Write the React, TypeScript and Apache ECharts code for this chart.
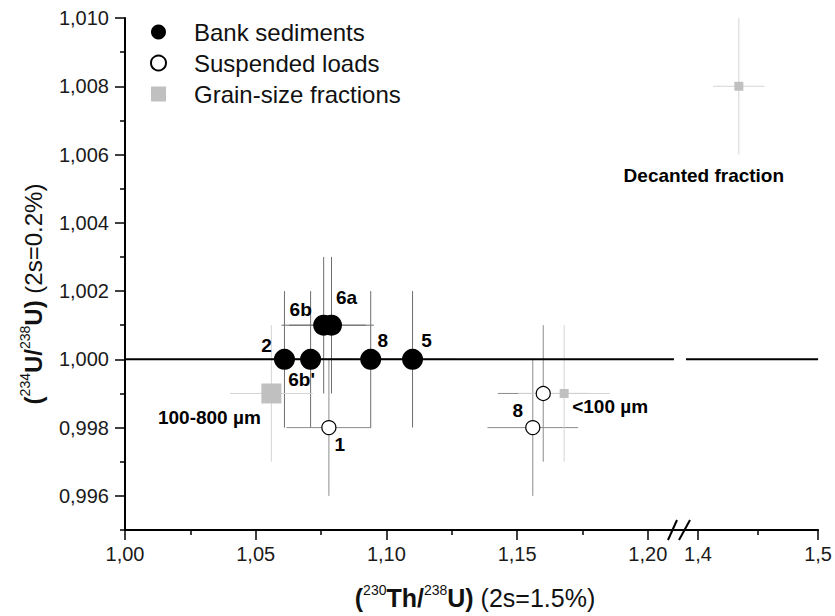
import React, { useEffect, useRef } from 'react';
import * as echarts from 'echarts';

// ---------- data ----------
const bankNames = ['2', "6b'", '6b', '6a', '8', '5'];
const bankTh = [1.061, 1.071, 1.076, 1.079, 1.094, 1.110];
const bankU = [1.000, 1.000, 1.001, 1.001, 1.000, 1.000];

const suspNames = ['1', '8', ''];
const suspTh = [1.078, 1.156, 1.160];
const suspU = [0.998, 0.998, 0.999];

const grainNamesLeft = ['100-800 µm', '<100 µm'];
const grainThLeft = [1.056, 1.168];
const grainULeft = [0.999, 0.999];
const grainNamesRight = ['Decanted fraction'];
const grainThRight = [1.434];
const grainURight = [1.008];

const thErrRel = 0.015; // 2s = 1.5 %
const uErr = 0.002; // 2s = 0.2 %
const refValue = 1.0;

const xLeftRange = [1.0, 1.21];
const xRightRange = [1.39, 1.5];
const yRange = [0.995, 1.01];
const xTicksLeft = [1.0, 1.05, 1.1, 1.15, 1.2];
const xMinorLeft = [1.025, 1.075, 1.125, 1.175];
const xTicksRight = [1.4, 1.5];
const xMinorRight = [1.45];
const yTicks = [0.996, 0.998, 1.0, 1.002, 1.004, 1.006, 1.008, 1.01];
const yMinor = [0.995, 0.997, 0.999, 1.001, 1.003, 1.005, 1.007, 1.009];

// ---------- styling ----------
const FONT = 'Liberation Sans, Arial, sans-serif';
const bankLabelOffsets = [[-18, -14], [-9, 20], [-23, -16], [15, -28], [12, -19], [14, -19]];
const suspLabelOffsets = [[11, 17], [-15, -17], [0, 0]];
const grainLeftLabelOffsets = [[-62, 24], [46, 13]];
const grainRightLabelOffsets = [[-35, 89]];
const grainLeftSizes = [20, 9];

const labelBase = {
  show: true,
  position: 'inside',
  formatter: '{b}',
  fontSize: 19,
  fontWeight: 'bold',
  color: '#000',
  opacity: 1,
  fontFamily: FONT,
};

function errorBars(xs: number[], ys: number[], color: string, xi: number, yi: number, z: number) {
  return {
    type: 'custom',
    name: 'err',
    xAxisIndex: xi,
    yAxisIndex: yi,
    silent: true,
    z,
    encode: { x: 0, y: 1 },
    data: xs.map((x, i) => [x, ys[i], x * thErrRel, uErr]),
    renderItem: (_p: any, api: any) => {
      const x = api.value(0), y = api.value(1), ex = api.value(2), ey = api.value(3);
      const l = api.coord([x - ex, y]);
      const r = api.coord([x + ex, y]);
      const t = api.coord([x, y + ey]);
      const b = api.coord([x, y - ey]);
      return {
        type: 'group',
        children: [
          { type: 'line', shape: { x1: l[0], y1: l[1], x2: r[0], y2: r[1] }, style: { stroke: color, lineWidth: 1 } },
          { type: 'line', shape: { x1: t[0], y1: t[1], x2: b[0], y2: b[1] }, style: { stroke: color, lineWidth: 1 } },
        ],
      };
    },
  };
}

const fmt = (d: number) => (v: number) => v.toFixed(d).replace('.', ',');

const mainX = (grid: number, range: number[], ticks: number[], digits: number) => ({
  type: 'value',
  gridIndex: grid,
  position: 'bottom',
  min: range[0],
  max: range[1],
  splitLine: { show: false },
  axisLine: { show: true, onZero: false, lineStyle: { color: '#000', width: 2 } },
  axisTick: { show: true, inside: false, length: 10, customValues: ticks, lineStyle: { color: '#000', width: 1.5 } },
  axisLabel: { show: true, customValues: ticks, formatter: fmt(digits), fontSize: 20, color: '#1a1a1a', fontFamily: FONT, margin: 14 },
});

const minorX = (grid: number, range: number[], ticks: number[]) => ({
  type: 'value',
  gridIndex: grid,
  position: 'bottom',
  min: range[0],
  max: range[1],
  splitLine: { show: false },
  axisLine: { show: false, onZero: false },
  axisTick: { show: true, inside: false, length: 5, customValues: ticks, lineStyle: { color: '#000', width: 1.5 } },
  axisLabel: { show: false },
});

const option: any = {
  animation: false,
  backgroundColor: '#fff',
  grid: [
    { left: 125, top: 18, width: (xLeftRange[1] - xLeftRange[0]) * 2614, height: 512 },
    { left: 686, top: 18, width: 133, height: 512 },
  ],
  xAxis: [
    mainX(0, xLeftRange, xTicksLeft, 2),
    minorX(0, xLeftRange, xMinorLeft),
    mainX(1, xRightRange, xTicksRight, 1),
    minorX(1, xRightRange, xMinorRight),
  ],
  yAxis: [
    {
      type: 'value',
      gridIndex: 0,
      position: 'left',
      min: yRange[0],
      max: yRange[1],
      splitLine: { show: false },
      axisLine: { show: true, onZero: false, lineStyle: { color: '#000', width: 2 } },
      axisTick: { show: true, inside: false, length: 10, customValues: yTicks, lineStyle: { color: '#000', width: 1.5 } },
      axisLabel: { show: true, customValues: yTicks, formatter: fmt(3), fontSize: 20, color: '#1a1a1a', fontFamily: FONT, margin: 16 },
    },
    {
      type: 'value',
      gridIndex: 0,
      position: 'left',
      min: yRange[0],
      max: yRange[1],
      splitLine: { show: false },
      axisLine: { show: false, onZero: false },
      axisTick: { show: true, inside: false, length: 5, customValues: yMinor, lineStyle: { color: '#000', width: 1.5 } },
      axisLabel: { show: false },
    },
    {
      type: 'value',
      gridIndex: 1,
      min: yRange[0],
      max: yRange[1],
      show: false,
    },
  ],
  legend: {
    orient: 'vertical',
    left: 145,
    top: 15,
    padding: 5,
    itemWidth: 15,
    itemHeight: 15,
    itemGap: 7,
    selectedMode: false,
    textStyle: { fontSize: 24, color: '#111', fontFamily: FONT, padding: [0, 0, 0, 23] },
    data: [
      { name: 'Bank sediments', icon: 'circle' },
      { name: 'Suspended loads', icon: 'circle' },
      { name: 'Grain-size fractions', icon: 'rect' },
    ],
  },
  series: [
    errorBars(bankTh, bankU, '#6e6e6e', 0, 0, 1),
    errorBars(suspTh, suspU, '#8c8c8c', 0, 0, 1),
    errorBars(grainThLeft, grainULeft, '#d4d4d4', 0, 0, 1),
    errorBars(grainThRight, grainURight, '#d4d4d4', 2, 2, 1),
    {
      type: 'line',
      name: 'ref-left',
      xAxisIndex: 0,
      yAxisIndex: 0,
      silent: true,
      symbol: 'none',
      z: 2,
      lineStyle: { color: '#000', width: 2 },
      data: [[xLeftRange[0], refValue], [xLeftRange[1], refValue]],
    },
    {
      type: 'line',
      name: 'ref-right',
      xAxisIndex: 2,
      yAxisIndex: 2,
      silent: true,
      symbol: 'none',
      z: 2,
      lineStyle: { color: '#000', width: 2 },
      data: [[xRightRange[0], refValue], [xRightRange[1], refValue]],
    },
    {
      type: 'scatter',
      name: 'Grain-size fractions',
      xAxisIndex: 0,
      yAxisIndex: 0,
      symbol: 'rect',
      z: 3,
      itemStyle: { color: '#c0c0c0', opacity: 1 },
      data: grainThLeft.map((x, i) => ({
        name: grainNamesLeft[i],
        value: [x, grainULeft[i]],
        symbolSize: grainLeftSizes[i],
        label: { ...labelBase, offset: grainLeftLabelOffsets[i] },
      })),
    },
    {
      type: 'scatter',
      name: 'Grain-size fractions',
      xAxisIndex: 2,
      yAxisIndex: 2,
      symbol: 'rect',
      symbolSize: 9,
      z: 3,
      itemStyle: { color: '#c0c0c0', opacity: 1 },
      data: grainThRight.map((x, i) => ({
        name: grainNamesRight[i],
        value: [x, grainURight[i]],
        label: { ...labelBase, offset: grainRightLabelOffsets[i] },
      })),
    },
    {
      type: 'scatter',
      name: 'Suspended loads',
      xAxisIndex: 0,
      yAxisIndex: 0,
      symbol: 'circle',
      symbolSize: 14,
      z: 4,
      itemStyle: { color: '#fff', borderColor: '#000', borderWidth: 1.2, opacity: 1 },
      data: suspTh.map((x, i) => ({
        name: suspNames[i],
        value: [x, suspU[i]],
        label: { ...labelBase, offset: suspLabelOffsets[i] },
      })),
    },
    {
      type: 'scatter',
      name: 'Bank sediments',
      xAxisIndex: 0,
      yAxisIndex: 0,
      symbol: 'circle',
      symbolSize: 21,
      z: 4,
      itemStyle: { color: '#000', opacity: 1 },
      data: bankTh.map((x, i) => ({
        name: bankNames[i],
        value: [x, bankU[i]],
        label: { ...labelBase, offset: bankLabelOffsets[i] },
      })),
    },
  ],
  graphic: [
    // axis break bridge and slashes
    { type: 'line', shape: { x1: 673, y1: 530, x2: 687, y2: 530 }, style: { stroke: '#000', lineWidth: 2 } },
    { type: 'line', shape: { x1: 668, y1: 540, x2: 677, y2: 520 }, style: { stroke: '#000', lineWidth: 2 } },
    { type: 'line', shape: { x1: 679, y1: 540, x2: 690, y2: 520 }, style: { stroke: '#000', lineWidth: 2 } },
    {
      type: 'text',
      x: 33,
      y: 294,
      rotation: Math.PI / 2,
      style: {
        text: '{b|(}{s|234}{b|U/}{s|238}{b|U)}{n| (2s=0.2%)}',
        align: 'center',
        verticalAlign: 'middle',
        fill: '#111',
        rich: {
          b: { fontSize: 24, fontWeight: 'bold', fontFamily: FONT, lineHeight: 30, fill: '#111' },
          s: { fontSize: 14, fontFamily: FONT, verticalAlign: 'top', fill: '#111' },
          n: { fontSize: 24, fontFamily: FONT, lineHeight: 30, fill: '#111' },
        },
      },
    },
    {
      type: 'text',
      x: 475,
      y: 598,
      style: {
        text: '{b|(}{s|230}{b|Th/}{s|238}{b|U)}{n| (2s=1.5%)}',
        align: 'center',
        verticalAlign: 'middle',
        fill: '#111',
        rich: {
          b: { fontSize: 25, fontWeight: 'bold', fontFamily: FONT, lineHeight: 30, fill: '#111' },
          s: { fontSize: 14, fontFamily: FONT, verticalAlign: 'top', fill: '#111' },
          n: { fontSize: 25, fontFamily: FONT, lineHeight: 30, fill: '#111' },
        },
      },
    },
  ],
};

export default function App() {
  const ref = useRef<HTMLDivElement>(null);
  useEffect(() => {
    const chart = echarts.init(ref.current as HTMLDivElement, null, { renderer: 'svg' });
    chart.setOption(option);
    return () => chart.dispose();
  }, []);
  return (
    <div
      ref={ref}
      style={{ position: 'fixed', left: 0, top: 0, width: 835, height: 616, background: '#fff' }}
    />
  );
}
